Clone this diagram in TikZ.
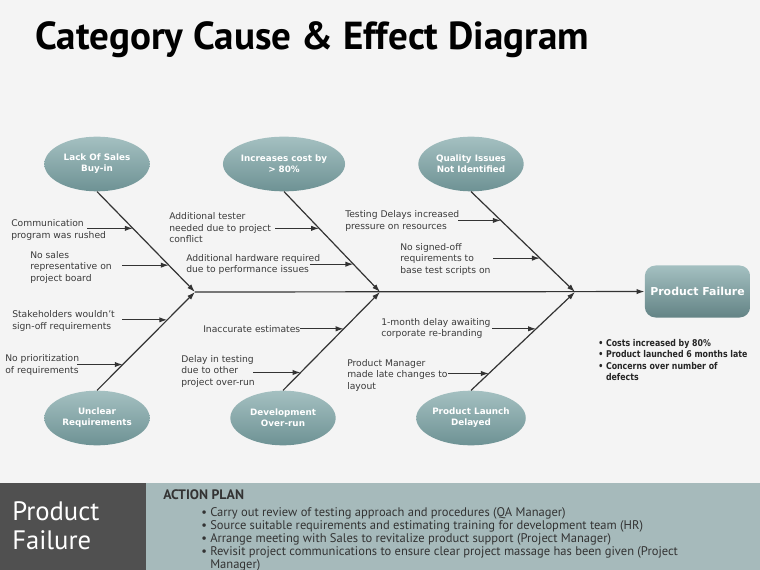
\documentclass[tikz,border=0pt]{standalone}
\usepackage{fontspec}
\setmainfont{DejaVu Sans}
\newfontfamily\bandfont{PT Sans}
\newfontfamily\factfont[FakeStretch=0.84]{DejaVu Sans}
\usetikzlibrary{arrows.meta,calc,shapes.geometric}
\definecolor{paper}{HTML}{F4F4F4}
\definecolor{ink}{HTML}{3A3A3A}
\definecolor{bonegray}{HTML}{333333}
\definecolor{headtop}{HTML}{A4C0C1}
\definecolor{headbot}{HTML}{6E9294}
\definecolor{bandblue}{HTML}{A6BABB}
\definecolor{banddark}{HTML}{505050}

\begin{document}
\begin{tikzpicture}[x=0.75pt,y=-0.75pt,>={Latex[length=6pt,width=4pt]},
  bone/.style={->,draw=bonegray,line width=0.9pt},
  cause/.style={<-,draw=bonegray,line width=0.9pt},
  txt/.style={anchor=west,align=left,inner sep=0,text=ink,font=\fontsize{6.9}{8.6}\selectfont},
  head/.style={ellipse,minimum width=79pt,minimum height=41pt,inner sep=0,top color=headtop,bottom color=headbot,
    text=white,align=center,font=\bfseries\fontsize{6.6}{8.2}\selectfont}]
\fill[paper] (0,0) rectangle (760,570);
\useasboundingbox (0,0) rectangle (760,570);
\node[anchor=base west,inner sep=0,font=\bandfont\bfseries\fontsize{29.3}{32}\selectfont] (title) at (35,50){Category Cause \& Effect Diagram};

% categories and effect
\node[head] (t1) at (97,164){Lack Of Sales\\Buy-in};
\node[head] (t2) at (284,164){Increases cost by\\> 80\%};
\node[head] (t3) at (471,164){Quality Issues\\Not Identified};
\node[head] (b1) at (97,418){Unclear\\Requirements};
\node[head] (b2) at (283,418){Development\\Over-run};
\node[head] (b3) at (471,418){Product Launch\\Delayed};
\node[rounded corners=8pt,minimum width=79pt,minimum height=39pt,top color=headtop,bottom color=headbot!90!black,
  text=white,font=\bfseries\fontsize{8.2}{10}\selectfont] (pf) at (697.5,291.5){Product Failure};

% spine and bones
\coordinate (j1) at (195,292); \coordinate (j2) at (380,292); \coordinate (j3) at (575,292);
\draw[bone] (j1) -- (pf);
\foreach \a/\j in {t1.south/j1,t2.south/j2,t3.south/j3,b1.north/j1,b2.north/j2,b3.north/j3} \draw[bone] (\a) -- (\j);

% causes
\foreach \n/\a/\j/\f/\l in {1/t1.south/j1/0.366/46,2/t1.south/j1/0.733/47,3/t2.south/j2/0.366/44,4/t2.south/j2/0.723/43,
  5/t3.south/j3/0.287/43,6/t3.south/j3/0.663/47,7/b1.north/j1/0.717/45,8/b1.north/j1/0.263/46,
  9/b2.north/j2/0.626/44,10/b2.north/j2/0.182/48,11/b3.north/j3/0.626/44,12/b3.north/j3/0.172/41}
  {\coordinate (h\n) at ($(\a)!\f!(\j)$); \draw[cause] (h\n) -- ++(-\l,0);}
\node[txt] (c1) at (11,230){Communication\\program was rushed};
\node[txt] (c2) at (30,267){No sales\\representative on\\project board};
\node[txt] (c3) at (169,228){Additional tester\\needed due to project\\conflict};
\node[txt] (c4) at (186,264.5){Additional hardware required\\due to performance issues};
\node[txt] (c5) at (345,221){Testing Delays increased\\pressure on resources};
\node[txt] (c6) at (400,259){No signed-off\\requirements to\\base test scripts on};
\node[txt] (c7) at (12,321){Stakeholders wouldn't\\sign-off requirements};
\node[txt] (c8) at (5,365){No prioritization\\of requirements};
\node[txt] (c9) at (203,329){Inaccurate estimates};
\node[txt] (c10) at (181,371){Delay in testing\\due to other\\project over-run};
\node[txt] (c11) at (381,328.5){1-month delay awaiting\\corporate re-branding};
\node[txt] (c12) at (347,375){Product Manager\\made late changes to\\layout};
\node[txt,font=\factfont\bfseries\fontsize{7}{8.3}\selectfont,text=black!85] (facts) at (598,360){• Costs increased by 80\%\\• Product launched 6 months late\\• Concerns over number of\\\phantom{• }defects};

% action plan band
\fill[bandblue] (0,483) rectangle (760,570); \fill[banddark] (0,483) rectangle (146,570);
\node[anchor=west,align=left,inner sep=0,text=white,font=\bandfont\fontsize{20}{22}\selectfont] (pfb) at (12,525.5){Product\\Failure};
\node[anchor=west,inner sep=0,text=black!80,font=\bandfont\bfseries\fontsize{10.3}{12}\selectfont] (plan) at (163,495){ACTION PLAN};
\node[anchor=north west,align=left,inner sep=0,text=black!80,font=\bandfont\fontsize{9.4}{9.75}\selectfont] (actions) at (201,507){•~Carry out review of testing approach and procedures (QA Manager)\\•~Source suitable requirements and estimating training for development team (HR)\\•~Arrange meeting with Sales to revitalize product support (Project Manager)\\•~Revisit project communications to ensure clear project massage has been given (Project\\\phantom{•~}Manager)};
\end{tikzpicture}
\end{document}
